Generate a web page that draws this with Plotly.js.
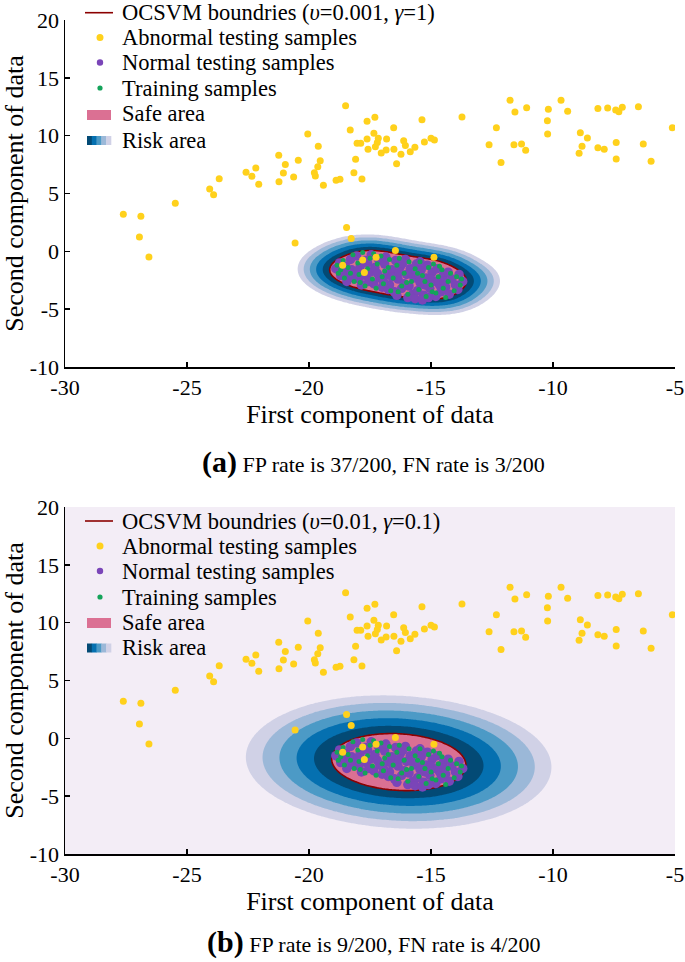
<!DOCTYPE html>
<html>
<head>
<meta charset="utf-8">
<script src="https://cdn.plot.ly/plotly-3.0.1.min.js"></script>
<style>html,body{margin:0;padding:0;background:#fff;}#chart{width:685px;height:962px;}</style>
</head>
<body>
<div id="chart"></div>
<script>
// ---------------- data ----------------
// abnormal testing samples (same in both panels)
const abnormalX = [-27.61,-26.89,-26.95,-26.56,-25.48,-24.07,-23.91,-23.68,-22.58,-22.18,-22.34,-22.06,-21.24,-20.97,-21.05,-21.23,-20.63,-20.44,-20.05,-19.62,-19.54,-19.64,-19.78,-19.74,-19.41,-18.89,-18.73,-18.50,-18.31,-17.62,-18.03,-17.88,-17.62,-17.58,-18.09,-18.16,-17.83,-18.46,-18.27,-20.57,
 -16.46,-14.88,-18.62,-17.80,-17.25,-17.73,
 -17.30,-17.34,-17.16,-17.20,-17.28,-16.82,-17.04,-16.84,-16.53,-16.52,-16.41,-16.23,-16.12,-16.05,-15.85,-15.66,-15.37,-15.27,-15.00,-14.86,-13.73,-12.32,-12.62,-12.13,-11.76,-11.56,-11.08,-11.60,-11.29,-11.12,-10.19,-10.23,-10.22,-9.67,-9.40,-8.88,-8.59,-8.81,-8.93,-8.16,-7.76,-7.43,-7.30,-7.16,-8.16,-7.90,-7.41,-7.41,-6.50,-6.30,-5.98,-5.11];
const abnormalY = [3.21,3.03,1.24,-0.48,4.16,5.39,4.90,6.28,6.84,7.21,6.49,5.80,8.30,7.50,6.78,6.02,6.43,7.87,10.15,9.08,7.84,7.32,6.80,6.52,5.71,6.14,6.23,12.59,10.49,11.24,9.34,9.34,9.71,8.82,7.96,6.80,6.26,2.05,1.10,0.73,
 0.08,-0.52,-1.21,-0.75,-0.51,-1.84,
 11.59,10.21,9.78,9.40,9.05,9.71,8.50,8.76,10.69,8.82,7.58,8.39,9.57,9.14,8.62,9.00,11.38,9.46,9.78,9.63,11.62,10.69,9.22,7.67,13.06,12.05,12.42,9.22,9.28,8.74,12.28,11.30,10.15,13.06,12.11,10.26,9.80,9.08,8.48,12.34,12.39,12.22,12.07,12.45,8.96,8.82,9.40,7.99,12.51,9.28,7.79,10.69];

// normal testing samples
const normalX = [-18.9,-18.75,-18.7,-18.5,-18.45,-18.3,-18.25,-18.1,-18.05,-17.9,-17.85,-17.7,-17.65,-17.5,-17.45,-17.35,-17.3,-17.15,-17.1,-17.0,-16.9,-16.85,-16.8,-16.7,-16.6,-16.5,-16.45,-16.35,-16.25,-16.2,-16.05,-16.0,-15.9,-15.85,-15.75,-15.7,-15.6,-15.55,-15.45,-15.4,-15.3,-15.2,-15.15,-15.05,-14.95,-14.9,-14.8,-14.75,-14.65,-14.6,-14.5,-14.4,-14.3,-14.25,-14.15,-14.0,-13.9,-13.85,-13.7,-18.55,-18.0,-17.6,-17.2,-16.95,-16.6,-16.3,-16.1,-15.8,-15.5,-15.25,-15.0,-14.7,-14.45,-16.75,-16.4,-15.95,-15.65,-15.35,-15.1,-17.55,-17.95,-18.35,-16.15,-15.45];
const normalY = [-1.5,-1.0,-2.1,-1.3,-2.6,-0.7,-1.6,-2.2,-0.4,-1.3,-2.9,-0.8,-2.1,-1.8,-0.3,-2.8,-1.4,-0.7,-2.3,-3.1,-1.1,-0.5,-2.0,-2.9,-1.6,-3.5,-0.8,-2.4,-1.3,-3.2,-0.7,-2.0,-3.0,-1.5,-3.7,-2.3,-1.1,-3.4,-2.7,-1.6,-3.8,-2.3,-1.2,-3.2,-1.8,-2.6,-3.9,-1.5,-2.9,-3.5,-2.1,-3.1,-1.8,-3.7,-2.4,-2.9,-3.3,-2.0,-2.6,-1.8,-1.7,-1.0,-1.9,-2.6,-2.2,-1.8,-2.8,-1.9,-2.1,-2.9,-2.4,-2.5,-2.6,-3.3,-3.8,-4.0,-4.1,-4.2,-4.0,-2.6,-2.4,-2.3,-1.0,-0.9];

// training samples
const trainX = [-18.85,-18.8,-18.6,-18.55,-18.4,-18.2,-18.15,-18.0,-17.95,-17.8,-17.7,-17.6,-17.5,-17.4,-17.25,-17.2,-17.05,-16.95,-16.9,-16.7,-16.65,-16.55,-16.4,-16.3,-16.2,-16.1,-15.95,-15.9,-15.8,-15.65,-15.5,-15.45,-15.35,-15.2,-15.1,-15.0,-14.9,-14.8,-14.7,-14.55,-14.5,-14.4,-14.3,-14.2,-14.05,-13.95,-13.8,-13.75,-17.9,-18.3,-17.35,-16.75,-16.0,-15.55,-14.95,-14.65,-16.35,-17.0,-15.25,-18.7];
const trainY = [-1.2,-1.9,-0.8,-2.3,-1.4,-0.3,-2.6,-1.0,-2.0,-0.1,-3.0,-1.5,-0.6,-2.4,-3.2,-1.1,-0.4,-2.8,-1.7,-0.7,-3.4,-2.3,-1.2,-0.6,-3.0,-1.9,-3.7,-0.9,-2.6,-1.5,-3.3,-0.9,-2.1,-3.9,-1.4,-2.9,-1.1,-3.6,-2.2,-1.6,-3.2,-4.0,-2.6,-1.9,-3.4,-2.2,-2.9,-2.4,-2.7,-1.9,-0.2,-1.4,-2.7,-1.9,-3.5,-1.3,-3.5,-2.2,-2.6,-1.6];

// tick labels
const xTickVals = [-30, -25, -20, -15, -10, -5];
const xTickText = ['-30', '-25', '-20', '-15', '-10', '-5'];
const yTickVals = [-10, -5, 0, 5, 10, 15, 20];
const yTickText = ['-10', '-5', '0', '5', '10', '15', '20'];

// legend labels
const legendLabels = [
  ['OCSVM boundries (<i>υ</i>=0.001, <i>γ</i>=1)', 'Abnormal testing samples', 'Normal testing samples', 'Training samples', 'Safe area', 'Risk area'],
  ['OCSVM boundries (<i>υ</i>=0.01, <i>γ</i>=0.1)', 'Abnormal testing samples', 'Normal testing samples', 'Training samples', 'Safe area', 'Risk area']
];
const captions = [
  '<span style="font-size:30px"><b>(a)</b></span> FP rate is 37/200, FN rate is 3/200',
  '<span style="font-size:30px"><b>(b)</b></span> FP rate is 9/200, FN rate is 4/200'
];
// model settings (from the legends)
const nuValues = [0.001, 0.01];
const gammaValues = [1, 0.1];

// ---------------- styles ----------------
const FONT = 'Liberation Serif, Times New Roman, serif';
const C_ABN = '#ffd11c', C_NORM = '#7a45b8', C_TRAIN = '#14a35a';
const C_SAFE = '#db7093', C_LINE = '#8b0000';
const BANDS = ['#d0d1e6', '#9bb8d8', '#4c9ac6', '#0570b0', '#034a75']; // light -> dark (PuBu)
const BG_BAND = ['rgba(255,255,255,0)', '#f3edf6'];
const RING_W = [0.22, 0.6];           // band width of the risk rings (display)
const LEGEND_ROWS = [[12.7, 37.5, 62.5, 88, 114, 140], [521, 546, 571, 597, 622, 647.5]];
const CAPTION_Y = [462, 942];
const W = 685, H = 962;
const px = v => v / W, py = v => 1 - v / H;

// grid for decision function
const gx = [], gy = [];
for (let i = 0; i <= 250; i++) gx.push(-30 + i * 0.1);
for (let j = 0; j <= 300; j++) gy.push(-10 + j * 0.1);

function score(x, y, gamma) {
  let s = 0;
  for (let k = 0; k < trainX.length; k++) {
    const dx = x - trainX[k], dy = y - trainY[k];
    s += Math.exp(-gamma * (dx * dx + dy * dy));
  }
  return s / trainX.length;
}

const traces = [];
const annotations = [];
const shapes = [];
for (let idx = 0; idx < 2; idx++) {
  const gamma = gammaValues[idx], nu = nuValues[idx];
  const xa = idx === 0 ? 'x' : 'x2';
  const ya = idx === 0 ? 'y' : 'y2';
  const tr = trainX.map((x, k) => score(x, trainY[k], gamma)).sort((a, b) => a - b);
  const rho = tr[Math.floor(nu * tr.length)];
  const F = [];
  let fmax = 0;
  for (let j = 0; j < gy.length; j++) {
    const row = [];
    for (let i = 0; i < gx.length; i++) {
      const v = score(gx[i], gy[j], gamma);
      row.push(v);
      if (v > fmax) fmax = v;
    }
    F.push(row);
  }
  const dist = f => f <= 0 ? 50 : Math.min(50, Math.sqrt(Math.max(0, Math.log(fmax / f)) / gamma));
  const Z = F.map(r => r.map(f => -dist(f)));
  const zb = -dist(rho), w = RING_W[idx];
  const cols = [BG_BAND[idx]].concat(BANDS).concat([C_SAFE]);
  const cs = [];
  cols.forEach((c, k) => {
    cs.push([k === 0 ? 0 : (k - 0.5) / 6, c]);
    cs.push([k === 6 ? 1 : (k + 0.5) / 6, c]);
  });
  traces.push({type: 'contour', x: gx, y: gy, z: Z, xaxis: xa, yaxis: ya,
    autocontour: false, contours: {start: zb - 5 * w, end: zb, size: w, coloring: 'fill', showlines: false},
    colorscale: cs, showscale: false, line: {width: 0, smoothing: 1}, hoverinfo: 'skip', showlegend: false});
  traces.push({type: 'scatter', mode: 'markers', x: normalX, y: normalY, xaxis: xa, yaxis: ya,
    marker: {color: C_NORM, size: 9.5}, name: 'Normal testing samples', showlegend: false});
  traces.push({type: 'scatter', mode: 'markers', x: trainX, y: trainY, xaxis: xa, yaxis: ya,
    marker: {color: C_TRAIN, size: 5}, name: 'Training samples', showlegend: false});
  traces.push({type: 'contour', x: gx, y: gy, z: Z, xaxis: xa, yaxis: ya,
    autocontour: false, contours: {start: zb, end: zb, size: 1, coloring: 'none'},
    line: {color: C_LINE, width: 1.6, smoothing: 1}, showscale: false, hoverinfo: 'skip', showlegend: false});
  traces.push({type: 'scatter', mode: 'markers', x: abnormalX, y: abnormalY, xaxis: xa, yaxis: ya,
    marker: {color: C_ABN, size: 7}, name: 'Abnormal testing samples', showlegend: false});

  // ----- hand-built legend (symbols + texts) -----
  const rows = LEGEND_ROWS[idx];
  legendLabels[idx].forEach((t, k) => {
    annotations.push({xref: 'paper', yref: 'paper', x: px(120), y: py(rows[k]), xanchor: 'left', yanchor: 'middle',
      showarrow: false, text: t, font: {family: FONT, size: 22.5, color: '#000'}});
  });
  shapes.push({type: 'line', xref: 'paper', yref: 'paper', x0: px(85), x1: px(113), y0: py(rows[0]), y1: py(rows[0]),
    line: {color: C_LINE, width: 1.6}});
  [[C_ABN, 3.5, rows[1]], [C_NORM, 3.2, rows[2]], [C_TRAIN, 2.6, rows[3]]].forEach(([c, r, y]) => {
    shapes.push({type: 'circle', xref: 'paper', yref: 'paper', x0: px(100 - r), x1: px(100 + r), y0: py(y + r), y1: py(y - r),
      fillcolor: c, line: {width: 0}});
  });
  shapes.push({type: 'rect', xref: 'paper', yref: 'paper', x0: px(87), x1: px(111), y0: py(rows[4] + 6), y1: py(rows[4] - 4),
    fillcolor: C_SAFE, line: {width: 0}});
  const grad = BANDS.slice().reverse();
  grad.forEach((c, k) => {
    shapes.push({type: 'rect', xref: 'paper', yref: 'paper', x0: px(87 + k * 4.8), x1: px(87 + (k + 1) * 4.8 + 0.3),
      y0: py(rows[5] + 5), y1: py(rows[5] - 4), fillcolor: c, line: {width: 0}});
  });
  annotations.push({xref: 'paper', yref: 'paper', x: px(374), y: py(CAPTION_Y[idx]),
    xanchor: 'center', yanchor: 'middle', showarrow: false, text: captions[idx],
    font: {family: FONT, size: 22, color: '#000'}});
}

function axis(domain, range, title, anchor, vals, text, standoff) {
  return {domain: domain, range: range, anchor: anchor, tickmode: 'array', tickvals: vals, ticktext: text,
    showline: true, linecolor: '#000', linewidth: 1.5, ticks: 'inside', ticklen: 5, tickwidth: 1.5, tickcolor: '#000',
    showgrid: false, zeroline: false, mirror: false, fixedrange: true, ticklabeloverflow: 'allow',
    tickfont: {family: FONT, size: 22, color: '#000'},
    title: {text: title, font: {family: FONT, size: 26, color: '#000'}, standoff: standoff}};
}
const xd = [px(65), px(675)];
const y1d = [py(367), py(20)];
const y2d = [py(854), py(507)];

const layout = {
  width: W, height: H, margin: {l: 0, r: 0, t: 0, b: 0},
  paper_bgcolor: '#fff', plot_bgcolor: 'rgba(0,0,0,0)', showlegend: false,
  xaxis: axis(xd, [-30, -5], 'First component of data', 'y', xTickVals, xTickText, 4),
  yaxis: axis(y1d, [-10, 20], 'Second component of data', 'x', yTickVals, yTickText, 6),
  xaxis2: axis(xd, [-30, -5], 'First component of data', 'y2', xTickVals, xTickText, 4),
  yaxis2: axis(y2d, [-10, 20], 'Second component of data', 'x2', yTickVals, yTickText, 6),
  annotations: annotations,
  shapes: shapes
};

Plotly.newPlot('chart', traces, layout, {displayModeBar: false, staticPlot: true});
</script>
</body>
</html>
